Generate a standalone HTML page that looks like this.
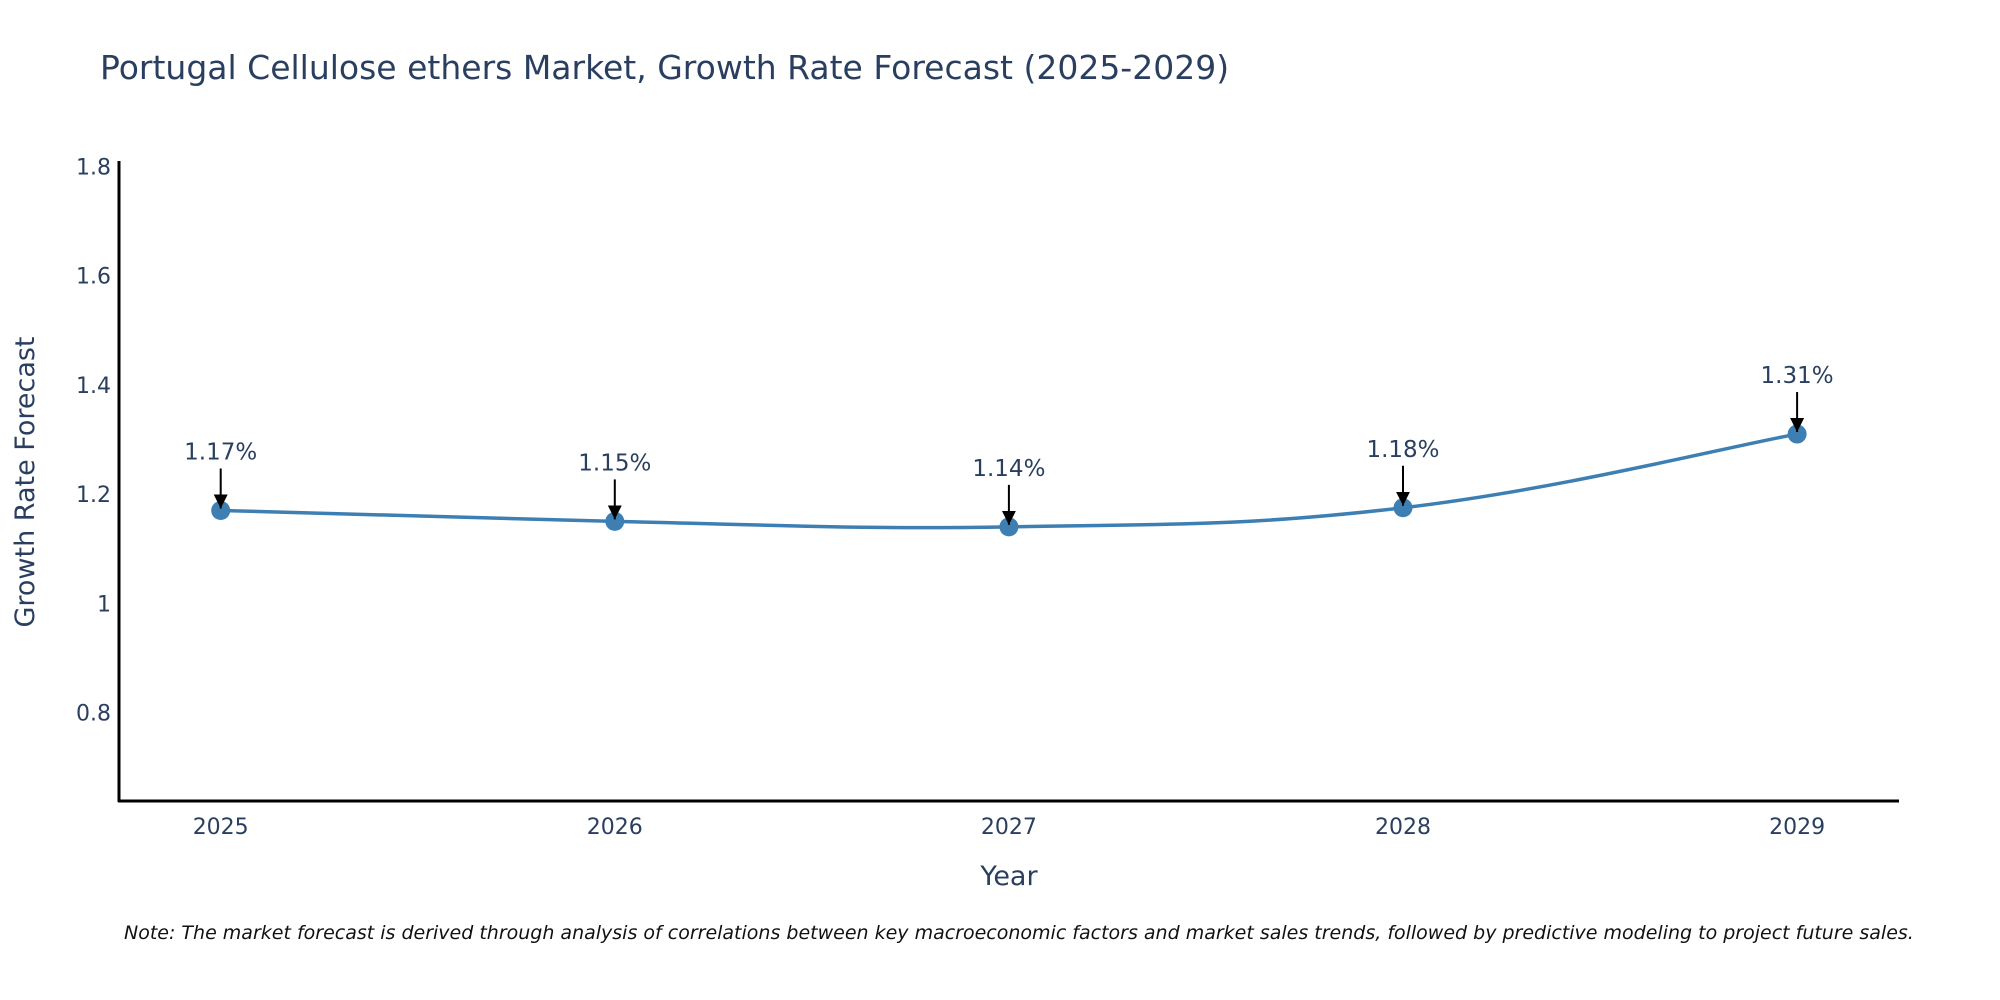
<!DOCTYPE html>
<html><head><meta charset="utf-8"><style>
body{margin:0;background:#fff;overflow:hidden;}
svg{display:block;font-family:"DejaVu Sans","Liberation Sans",sans-serif;}
</style></head><body>
<svg id="chart" width="2000" height="1000">
<text x="100" y="79" font-size="33" fill="#2a3f5f">Portugal Cellulose ethers Market, Growth Rate Forecast (2025-2029)</text>
<g id="yticks"></g>
<g id="xticks"></g>
<line x1="119" y1="161" x2="119" y2="802" stroke="#000" stroke-width="3"/>
<line x1="118" y1="801" x2="1899" y2="801" stroke="#000" stroke-width="3"/>
<text transform="translate(34,482) rotate(-90)" text-anchor="middle" font-size="27" fill="#2a3f5f">Growth Rate Forecast</text>
<text x="1009" y="885" text-anchor="middle" font-size="27" fill="#2a3f5f">Year</text>
<path id="line" fill="none" stroke="#3d7fb3" stroke-width="3.5"/>
<g id="marks"></g>
<defs><marker id="ah" viewBox="0 0 10 10" refX="10" refY="5" markerWidth="7" markerHeight="7" markerUnits="strokeWidth" orient="auto"><path d="M0,0 L10,5 L0,10 Z" fill="#000"/></marker></defs>
<text x="124" y="939" font-size="19" font-style="italic" fill="#111">Note: The market forecast is derived through analysis of correlations between key macroeconomic factors and market sales trends, followed by predictive modeling to project future sales.</text>
</svg>
<script>
const years=["2025","2026","2027","2028","2029"];
const values=[1.17,1.15,1.14,1.175,1.31];
const labels=["1.17%","1.15%","1.14%","1.18%","1.31%"];
const yTickValues=[0.8,1,1.2,1.4,1.6,1.8];
const yTickLabels=["0.8","1","1.2","1.4","1.6","1.8"];
const NS="http://www.w3.org/2000/svg";
function xs(i){return 220.7+i*394.1;}
function ys(v){return 603.3-(v-1)*546;}
const yt=document.getElementById('yticks');
yTickValues.forEach((v,i)=>{const t=document.createElementNS(NS,'text');
t.setAttribute('x',111);t.setAttribute('y',ys(v)+8);t.setAttribute('text-anchor','end');
t.setAttribute('font-size','22');t.setAttribute('fill','#2a3f5f');t.textContent=yTickLabels[i];


yt.appendChild(t);});
const xt=document.getElementById('xticks');
years.forEach((y,i)=>{const t=document.createElementNS(NS,'text');
t.setAttribute('x',xs(i));t.setAttribute('y',834);t.setAttribute('text-anchor','middle');
t.setAttribute('font-size','22');t.setAttribute('fill','#2a3f5f');t.textContent=y;


xt.appendChild(t);});
const P=values.map((v,i)=>[xs(i),ys(v)]);
let d='M'+P[0][0]+','+P[0][1];const s=0.2;
for(let i=0;i<P.length-1;i++){const p0=P[Math.max(i-1,0)],p1=P[i],p2=P[i+1],p3=P[Math.min(i+2,P.length-1)];
const c1=[p1[0]+(p2[0]-p0[0])*s,p1[1]+(p2[1]-p0[1])*s],c2=[p2[0]-(p3[0]-p1[0])*s,p2[1]-(p3[1]-p1[1])*s];
d+=` C${c1[0]},${c1[1]} ${c2[0]},${c2[1]} ${p2[0]},${p2[1]}`;}
document.getElementById('line').setAttribute('d',d);
const g=document.getElementById('marks');
P.forEach((p,i)=>{const c=document.createElementNS(NS,'circle');
c.setAttribute('cx',p[0]);c.setAttribute('cy',p[1]);c.setAttribute('r',9.5);c.setAttribute('fill','#3d7fb3');


g.appendChild(c);
const a=document.createElementNS(NS,'line');
a.setAttribute('x1',p[0]);a.setAttribute('y1',p[1]-42);a.setAttribute('x2',p[0]);a.setAttribute('y2',p[1]-2);
a.setAttribute('stroke','#000');a.setAttribute('stroke-width','2');a.setAttribute('marker-end','url(#ah)');


g.appendChild(a);
const t=document.createElementNS(NS,'text');
t.setAttribute('x',p[0]);t.setAttribute('y',p[1]-51);t.setAttribute('text-anchor','middle');
t.setAttribute('font-size','23');t.setAttribute('fill','#2a3f5f');t.textContent=labels[i];


g.appendChild(t);});
</script>
</body></html>
